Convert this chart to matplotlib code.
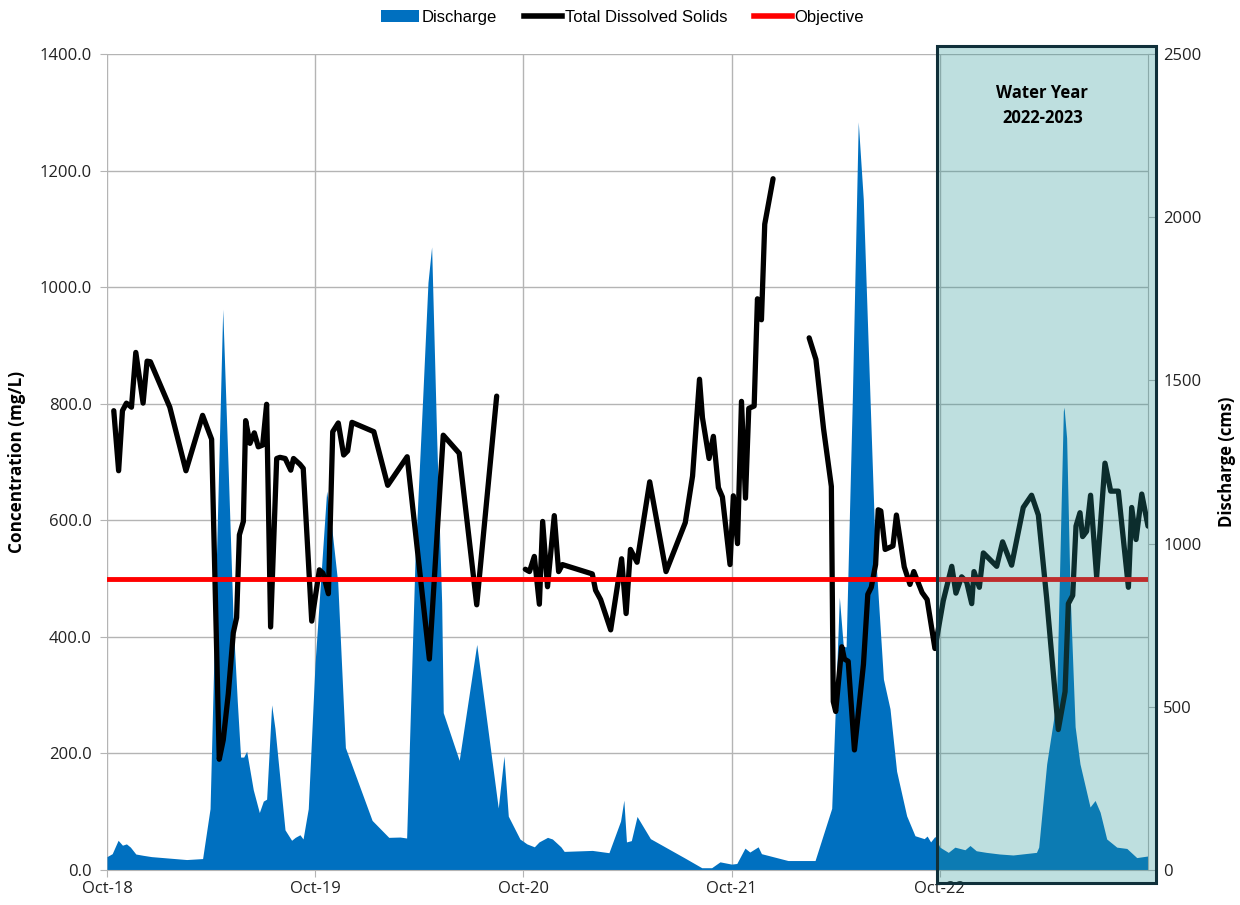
import numpy as np
import matplotlib
matplotlib.use("Agg")
import matplotlib.pyplot as plt
from matplotlib.patches import Rectangle, Patch
from matplotlib.lines import Line2D

# ---------------- data ----------------
# months since 1 Oct 2018
tds_month = [0.39, 0.67, 0.89, 1.12, 1.41, 1.66, 2.08, 2.31, 2.5, 3.62, 4.55, 5.51, 6.03, 6.47, 6.7,
             6.99, 7.28, 7.47, 7.63, 7.86, 7.99, 8.24, 8.49, 8.72, 8.97, 9.2, 9.43, 9.78, 9.97, 10.27,
             10.59, 10.75, 11.12, 11.31, 11.8, 12.24, 12.45, 12.76, 13.01, 13.33, 13.64, 13.87, 14.12,
             15.38, 16.18, 17.3, 18.58, 19.38, 20.3, 21.31, 22.46,
             23.3,
             24.11, 24.35, 24.63, 24.92, 25.11, 25.39, 25.78, 26.03, 26.25, 27.97, 28.16, 28.45, 29.03,
             29.66, 29.92, 30.17, 30.55, 31.28, 32.22, 33.33, 33.75, 34.15, 34.32, 34.7, 34.95, 35.24,
             35.47, 35.91, 36.1, 36.34, 36.57, 36.8, 36.99, 37.3, 37.49, 37.72, 37.91, 38.39,
             39.5,
             40.47, 40.86, 41.3, 41.75, 41.86, 42.0, 42.35, 42.5, 42.72, 43.08, 43.6, 43.85, 44.05, 44.3,
             44.45, 44.6, 44.85, 45.3, 45.5, 45.95, 46.28, 46.5, 46.98, 47.27, 47.72, 48.2, 48.69, 48.93,
             49.26, 49.55, 49.84, 49.97, 50.28, 50.51, 51.28, 51.62, 52.14, 52.81, 53.29, 53.68, 54.16,
             54.83, 55.22, 55.41, 55.66, 55.85, 56.08, 56.23, 56.46, 56.69, 57.04, 57.52, 57.85, 58.29,
             58.87, 59.06, 59.31, 59.64, 60.0]
tds_value = [788, 685, 788, 801, 794, 888, 801, 873, 872, 794, 685, 780, 739, 190, 223,
             302, 407, 433, 575, 598, 771, 732, 750, 726, 729, 799, 417, 706, 708, 706,
             686, 706, 696, 689, 427, 515, 509, 474, 752, 767, 712, 719, 768,
             752, 660, 709, 362, 746, 715, 455, 813,
             np.nan,
             516, 512, 538, 456, 598, 486, 608, 512, 524, 508, 480, 464, 412,
             534, 440, 550, 528, 666, 512, 596, 676, 842, 776, 706, 744, 656,
             640, 524, 642, 560, 804, 638, 792, 796, 980, 944, 1108, 1186,
             np.nan,
             913, 876, 757, 658, 289, 272, 383, 362, 358, 206, 353, 473, 485, 524,
             618, 616, 550, 556, 609, 520, 490, 512, 476, 464, 380, 462, 521, 475,
             503, 494, 457, 512, 485, 544, 521, 563, 523, 622, 643, 609, 466,
             241, 306, 457, 471, 590, 613, 572, 581, 643, 503, 698, 650, 650,
             485, 622, 567, 645, 590]

q_month = [0, 0.3, 0.64, 0.89, 1.12, 1.35, 1.66, 2.08, 2.56, 4.59, 5.51, 5.94, 6.32, 6.67, 6.99,
           7.28, 7.51, 7.7, 7.88, 8.05, 8.43, 8.78, 9.01, 9.2, 9.49, 9.68, 10.26, 10.64, 10.85,
           11.12, 11.3, 11.6, 11.99, 12.66, 12.95, 13.3, 13.74, 15.28, 16.24, 16.89, 17.27, 17.75,
           18.2, 18.5, 18.71, 19.0, 19.29, 19.38, 20.3, 21.31, 22.55, 22.88, 23.13, 23.8, 24.2,
           24.63, 24.9, 25.39, 25.67, 26.16, 26.35, 27.97, 28.93, 29.6, 29.79, 29.94, 30.22, 30.55,
           31.32, 33.33, 34.28, 34.85, 35.33, 36.0, 36.3, 36.77, 37.05, 37.53, 37.72, 39.25, 40.81,
           41.77, 42.21, 42.44, 42.6, 42.96, 43.3, 43.59, 43.88, 44.27, 44.75, 45.13, 45.51, 46.09,
           46.57, 47.1, 47.27, 47.47, 47.72, 48.0, 48.49, 48.87, 49.45, 49.74, 50.1, 50.68, 51.45,
           52.22, 53.57, 53.7, 54.16, 54.73, 55.12, 55.16, 55.31, 55.51, 55.8, 56.08, 56.66, 56.95,
           57.24, 57.62, 58.2, 58.78, 59.35, 60.0]
q_value = [41, 50, 91, 76, 80, 70, 49, 45, 41, 32, 35, 188, 985, 1718, 1219,
           750, 516, 346, 346, 364, 246, 176, 211, 217, 506, 434, 123, 91, 100,
           108, 95, 188, 633, 1161, 1050, 880, 375, 152, 100, 101, 98, 945,
           1452, 1800, 1909, 1326, 818, 482, 336, 691, 190, 349, 165, 95, 80,
           71, 86, 100, 95, 71, 57, 60, 53, 150, 214, 86, 90, 164,
           96, 36, 7, 7, 25, 18, 20, 67, 55, 71, 50, 29, 29,
           189, 836, 684, 684, 1446, 2292, 2055, 1598, 989, 585, 494, 303, 166,
           105, 96, 104, 86, 103, 70, 54, 70, 62, 75, 59, 54, 49,
           46, 54, 70, 325, 521, 1406, 1418, 1324, 849, 439, 325, 193, 213,
           177, 95, 70, 66, 38, 43]

objective = 500
tick_month = [0, 12, 24, 36, 48]
tick_labels = ["Oct-18", "Oct-19", "Oct-20", "Oct-21", "Oct-22"]
c_ticks = [0, 200, 400, 600, 800, 1000, 1200, 1400]
q_ticks = [0, 500, 1000, 1500, 2000, 2500]

# ---------------- style ----------------
FONT = ["Open Sans", "DejaVu Sans"]
NARROW = ["Liberation Sans Narrow", "Liberation Sans", "DejaVu Sans"]
plt.rcParams["font.family"] = FONT
BLUE = "#0070C0"
GRID = "#b4b4b4"

fig = plt.figure(figsize=(12.4, 9.05), dpi=100)
ax_q = fig.add_axes([107/1240, 35/905, 1041/1240, 816/905])
ax_c = ax_q.twinx()

c_max, q_max = 1400, 2500
ax_q.set_xlim(0, 60)
ax_q.set_ylim(0, q_max)
ax_c.set_ylim(0, c_max)

# gridlines (behind the discharge area)
for c in c_ticks:
    ax_q.axhline(c * q_max / c_max, color=GRID, lw=1.0, zorder=0)
for m in tick_month:
    ax_q.axvline(m, color=GRID, lw=1.0, zorder=0)

ax_q.fill_between(q_month, q_value, 0, color=BLUE, lw=0, zorder=2)

ax_c.plot(tds_month, tds_value, color="black", lw=3.8, solid_joinstyle="round",
          solid_capstyle="round", zorder=3)
ax_c.axhline(objective, color="#FF0000", lw=3.5, zorder=4)

# axes styling
for ax in (ax_q, ax_c):
    for s in ax.spines.values():
        s.set_visible(False)
ax_q.spines["right"].set_visible(True)
ax_q.spines["right"].set_color(GRID)
ax_q.spines["bottom"].set_visible(True)
ax_q.spines["bottom"].set_color(GRID)

ax_q.yaxis.tick_right()
ax_q.yaxis.set_label_position("right")
ax_c.yaxis.tick_left()
ax_c.yaxis.set_label_position("left")

ax_q.set_xticks(tick_month)
ax_q.set_xticklabels(tick_labels)
ax_q.set_yticks(q_ticks)
ax_q.set_yticklabels([str(v) for v in q_ticks])
ax_c.set_yticks(c_ticks)
ax_c.set_yticklabels([f"{v:.1f}" for v in c_ticks])

ax_q.tick_params(axis="x", length=5, color=GRID, labelsize=12, pad=3, labelcolor="#222222")
ax_q.tick_params(axis="y", length=5, color=GRID, labelsize=12, pad=6, labelcolor="#222222")
ax_c.tick_params(axis="y", length=5, color=GRID, labelsize=12, pad=6, labelcolor="#222222")

ax_c.set_ylabel("Concentration (mg/L)", fontsize=12.3, fontweight="bold", labelpad=10)
ax_q.set_ylabel("Discharge (cms)", fontsize=12, fontweight="bold", labelpad=12)

ax_c.set_zorder(ax_q.get_zorder() + 1)
ax_c.patch.set_visible(False)

# Water Year overlay box
box_x0, box_w = 0.797, 0.211
box_y0, box_h = -0.016, 1.026
ax_c.add_patch(Rectangle((box_x0, box_y0), box_w, box_h, transform=ax_c.transAxes,
                         facecolor="#2a9696", alpha=0.30, edgecolor="none",
                         clip_on=False, zorder=10))
ax_c.add_patch(Rectangle((box_x0, box_y0), box_w, box_h, transform=ax_c.transAxes,
                         facecolor="none", edgecolor="#10303a", lw=2.2,
                         clip_on=False, zorder=11))
ax_c.text(box_x0 + box_w / 2 - 0.004, 0.937, "Water Year\n2022-2023", transform=ax_c.transAxes,
          ha="center", va="center", fontsize=12, fontweight="bold", linespacing=1.45,
          color="black", zorder=12)

# legend
handles = [Patch(facecolor=BLUE, edgecolor="none"),
           Line2D([0], [0], color="black", lw=4),
           Line2D([0], [0], color="#FF0000", lw=4)]
labels = ["Discharge", "Total Dissolved Solids", "Objective"]
fig.legend(handles, labels, loc="center", bbox_to_anchor=(0.502, 0.981), ncol=3,
           frameon=False, handlelength=2.3, handletextpad=0.15, columnspacing=1.6,
           prop={"family": NARROW, "size": 12})

fig.savefig("out.png", dpi=100)
